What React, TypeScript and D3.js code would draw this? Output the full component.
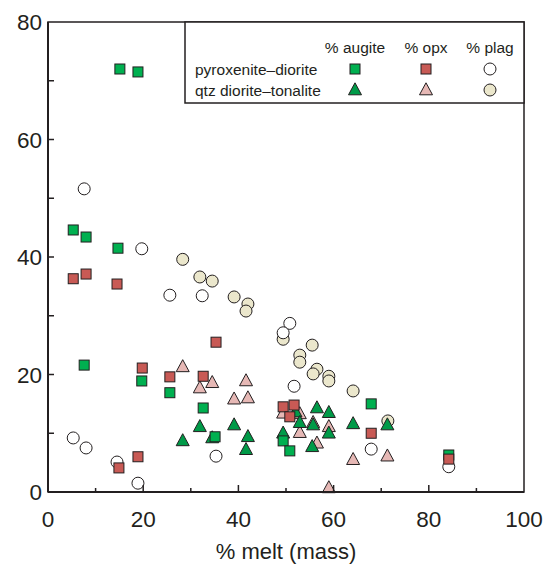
import React from "react";
import * as d3 from "d3";

// pyroxenite–diorite
const pxMelt = [5.3, 8.0, 7.6, 15.1, 14.7, 18.9, 19.7, 25.6, 32.6, 35.1, 49.4, 50.8, 67.9, 84.2];
const pxAugite = [44.6, 43.4, 21.6, 72.0, 41.5, 71.5, 18.9, 16.9, 14.3, 9.4, 8.7, 7.0, 15.0, 6.3];
const pxOpxMelt = [5.3, 8.0, 14.5, 14.9, 19.8, 18.9, 25.6, 32.6, 35.3, 49.4, 51.7, 50.8, 67.9, 84.2];
const pxOpx = [36.3, 37.1, 35.4, 4.1, 21.1, 6.0, 19.6, 19.7, 25.5, 14.5, 14.8, 12.8, 10.0, 5.6];
const pxPlagMelt = [7.6, 19.7, 5.3, 8.0, 14.5, 18.9, 25.6, 32.4, 35.3, 50.8, 49.4, 51.7, 67.9, 84.2];
const pxPlag = [51.6, 41.4, 9.2, 7.5, 5.1, 1.5, 33.5, 33.4, 6.1, 28.7, 27.1, 18.0, 7.3, 4.3];

// qtz diorite–tonalite
const qzPlagMelt = [28.3, 31.9, 34.5, 39.1, 42.0, 41.6, 49.4, 55.5, 52.9, 52.9, 56.5, 55.7, 59.0, 59.0, 64.1, 71.4];
const qzPlag = [39.6, 36.6, 35.9, 33.2, 32.0, 30.8, 26.0, 25.0, 23.3, 22.1, 20.9, 20.1, 19.7, 18.9, 17.2, 12.1];
const qzAugMelt = [28.3, 31.9, 34.5, 39.1, 42.0, 41.6, 49.4, 52.0, 52.9, 55.7, 56.5, 59.0, 59.0, 55.5, 64.1, 71.3];
const qzAugite = [8.7, 11.1, 9.2, 11.4, 9.4, 7.2, 10.0, 13.6, 11.8, 11.4, 14.3, 13.5, 10.0, 7.7, 11.6, 11.4];
const qzOpxMelt = [28.3, 31.9, 34.5, 41.6, 39.1, 42.0, 49.4, 52.9, 52.9, 55.7, 59.0, 56.5, 64.1, 71.3, 59.0];
const qzOpx = [21.3, 17.7, 18.6, 18.9, 15.8, 16.0, 13.4, 13.3, 10.1, 11.8, 11.1, 8.3, 5.5, 6.1, 0.7];

const xTicks = [0, 20, 40, 60, 80, 100];
const yTicks = [0, 20, 40, 60, 80];
const legendCols = ["% augite", "% opx", "% plag"];
const legendRows = ["pyroxenite–diorite", "qtz diorite–tonalite"];

const GREEN = "#00b050";
const DGREEN = "#009a48";
const RED = "#c85a55";
const PINK = "#e6b8b5";
const BEIGE = "#ebe7cc";
const STROKE = "#231f20";
const FONT = "Liberation Sans, Arial, sans-serif";

const zip = (xs: number[], ys: number[]) => xs.map((x, i) => [x, ys[i]] as [number, number]);

function Sq({ x, y, fill }: { x: number; y: number; fill: string }) {
  const s = 10;
  return <rect x={x - s / 2} y={y - s / 2} width={s} height={s} fill={fill} stroke={STROKE} strokeWidth={1} />;
}
function Tri({ x, y, fill }: { x: number; y: number; fill: string }) {
  const w = 13, h = 12;
  const pts = `${x},${y - h * 0.6} ${x - w / 2},${y + h * 0.4} ${x + w / 2},${y + h * 0.4}`;
  return <polygon points={pts} fill={fill} stroke={STROKE} strokeWidth={1} strokeLinejoin="miter" />;
}
function Circ({ x, y, fill }: { x: number; y: number; fill: string }) {
  return <circle cx={x} cy={y} r={6} fill={fill} stroke={STROKE} strokeWidth={1} />;
}

export default function App() {
  const W = 555, H = 570;
  const x = d3.scaleLinear().domain([0, 100]).range([48, 524]);
  const y = d3.scaleLinear().domain([0, 80]).range([492, 22]);
  const minorX = d3.range(10, 100, 10);
  const minorY = d3.range(10, 80, 10);

  const legX = [355, 426, 490];
  const legY = [69, 90];

  return (
    <svg width={W} height={H} style={{ position: "absolute", left: 0, top: 0, background: "#fff" }} fontFamily={FONT}>
      <rect width={W} height={H} fill="#fff" />
      {/* data */}
      {zip(qzPlagMelt, qzPlag).map(([a, b], i) => <Circ key={"qp" + i} x={x(a)} y={y(b)} fill={BEIGE} />)}
      {zip(qzOpxMelt, qzOpx).map(([a, b], i) => <Tri key={"qo" + i} x={x(a)} y={y(b)} fill={PINK} />)}
      {zip(qzAugMelt, qzAugite).map(([a, b], i) => <Tri key={"qa" + i} x={x(a)} y={y(b)} fill={DGREEN} />)}
      {zip(pxPlagMelt, pxPlag).map(([a, b], i) => <Circ key={"pp" + i} x={x(a)} y={y(b)} fill="#fff" />)}
      {zip(pxMelt, pxAugite).map(([a, b], i) => <Sq key={"pa" + i} x={x(a)} y={y(b)} fill={GREEN} />)}
      {zip(pxOpxMelt, pxOpx).map(([a, b], i) => <Sq key={"po" + i} x={x(a)} y={y(b)} fill={RED} />)}

      {/* frame */}
      <rect x={x(0)} y={y(80)} width={x(100) - x(0)} height={y(0) - y(80)} fill="none" stroke={STROKE} strokeWidth={1.5} />
      <line x1={x(0)} x2={x(100)} y1={y(0)} y2={y(0)} stroke={STROKE} strokeWidth={2} />
      <line x1={x(0)} x2={x(0)} y1={y(0)} y2={y(80)} stroke={STROKE} strokeWidth={2} />
      {minorX.map((t) => (
        <line key={"xt" + t} x1={x(t)} x2={x(t)} y1={y(0)} y2={y(0) - (t % 20 === 0 ? 7 : 4)} stroke={STROKE} strokeWidth={1.5} />
      ))}
      {minorY.map((t) => (
        <line key={"yt" + t} x1={x(0)} x2={x(0) + 6} y1={y(t)} y2={y(t)} stroke={STROKE} strokeWidth={1.5} />
      ))}
      {xTicks.map((t) => (
        <text key={"xl" + t} x={x(t)} y={y(0) + 35} textAnchor="middle" fontSize={22.5} fill={STROKE}>{t}</text>
      ))}
      {yTicks.map((t) => (
        <text key={"yl" + t} x={x(0) - 6} y={y(t) + 8} textAnchor="end" fontSize={22.5} fill={STROKE}>{t}</text>
      ))}
      <text x={286} y={559} textAnchor="middle" fontSize={22} fill={STROKE}>% melt (mass)</text>

      {/* legend */}
      <rect x={185} y={y(80)} width={x(100) - 185} height={103 - y(80)} fill="#fff" stroke={STROKE} strokeWidth={1.5} />
      {legendCols.map((c, i) => (
        <text key={c} x={legX[i]} y={52.5} textAnchor="middle" fontSize={15.5} fill={STROKE}>{c}</text>
      ))}
      {legendRows.map((r, i) => (
        <text key={r} x={195} y={legY[i] + 5.5} fontSize={15.5} fill={STROKE}>{r}</text>
      ))}
      <Sq x={legX[0]} y={legY[0]} fill={GREEN} />
      <Sq x={legX[1]} y={legY[0]} fill={RED} />
      <Circ x={legX[2]} y={legY[0]} fill="#fff" />
      <Tri x={legX[0]} y={legY[1]} fill={DGREEN} />
      <Tri x={legX[1]} y={legY[1]} fill={PINK} />
      <Circ x={legX[2]} y={legY[1]} fill={BEIGE} />
    </svg>
  );
}
